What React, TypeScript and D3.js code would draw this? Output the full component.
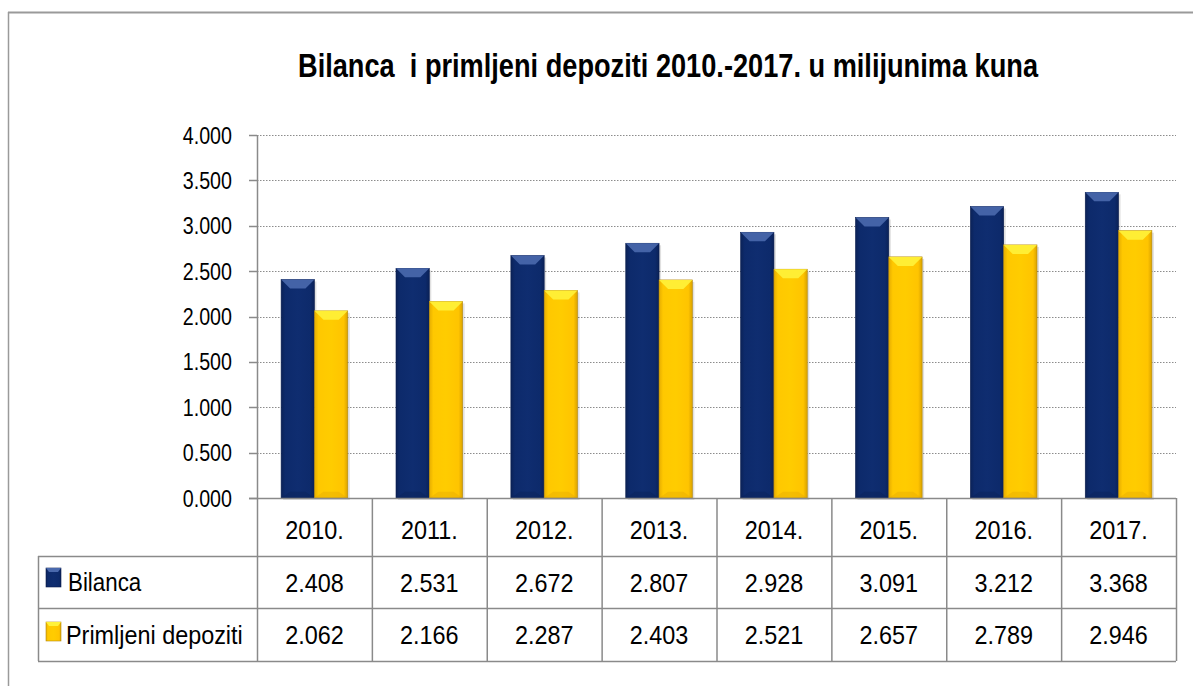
import React, { useLayoutEffect, useRef, useState } from "react";
import * as d3 from "d3";

const categories = ["2010.", "2011.", "2012.", "2013.", "2014.", "2015.", "2016.", "2017."];
const bilanca = [2408, 2531, 2672, 2807, 2928, 3091, 3212, 3368];
const depoziti = [2062, 2166, 2287, 2403, 2521, 2657, 2789, 2946];
const bilancaLabels = ["2.408", "2.531", "2.672", "2.807", "2.928", "3.091", "3.212", "3.368"];
const depozitiLabels = ["2.062", "2.166", "2.287", "2.403", "2.521", "2.657", "2.789", "2.946"];
const yTicks = [0, 500, 1000, 1500, 2000, 2500, 3000, 3500, 4000];
const yTickLabels = ["0.000", "0.500", "1.000", "1.500", "2.000", "2.500", "3.000", "3.500", "4.000"];
const seriesNames = ["Bilanca", "Primljeni depoziti"];
const title = "Bilanca  i primljeni depoziti 2010.-2017. u milijunima kuna";

const W = 1193;
const H = 686;
const plotL = 257;
const plotR = 1176;
const plotT = 135;
const plotB = 498;
const tableL = 38;
const row1 = 556;
const row2 = 608;
const row3 = 661;

const FONT = "'Liberation Sans', Arial, sans-serif";

function Bar({ x, y, w, h, kind }: { x: number; y: number; w: number; h: number; kind: "b" | "y" }) {
  const bev = Math.min(9, h / 2);
  const top = kind === "b" ? "#4a69ad" : "#fff23a";
  const bot = kind === "b" ? "#0a1f52" : "#e0a300";
  const stroke = kind === "b" ? "#0a1d4e" : "#b58a10";
  return (
    <g>
      <rect x={x + 2} y={y + 2} width={w} height={h} fill="#000" opacity={0.12} />
      <rect x={x} y={y} width={w} height={h} fill={`url(#grad-${kind})`} stroke={stroke} strokeWidth={0.6} />
      <polygon points={`${x},${y} ${x + w},${y} ${x + w - bev},${y + bev} ${x + bev},${y + bev}`} fill={top} opacity={0.9} />
      <polygon points={`${x},${y + h} ${x + w},${y + h} ${x + w - bev},${y + h - bev * 0.7} ${x + bev},${y + h - bev * 0.7}`} fill={bot} opacity={0.35} />
    </g>
  );
}

export default function App() {
  const x = d3.scaleBand<string>().domain(categories).range([plotL, plotR]).paddingInner(0).paddingOuter(0);
  const y = d3.scaleLinear().domain([0, 4000]).range([plotB, plotT]);
  const bw = x.bandwidth() * 0.29;
  const titleRef = useRef<SVGTextElement>(null);
  const [titleScale, setTitleScale] = useState(0.74);
  useLayoutEffect(() => {
    if (titleRef.current) {
      const len = titleRef.current.getComputedTextLength();
      if (len > 0) setTitleScale(740 / len);
    }
  }, []);

  return (
    <svg width={W} height={H} style={{ position: "absolute", left: 0, top: 0 }}>
      <defs>
        <linearGradient id="grad-b" x1="0" x2="1" y1="0" y2="0">
          <stop offset="0" stopColor="#0b2257" />
          <stop offset="0.12" stopColor="#0d2a6b" />
          <stop offset="0.5" stopColor="#0f2d70" />
          <stop offset="0.88" stopColor="#0d2a6b" />
          <stop offset="1" stopColor="#0a2157" />
        </linearGradient>
        <linearGradient id="grad-y" x1="0" x2="1" y1="0" y2="0">
          <stop offset="0" stopColor="#e6ad00" />
          <stop offset="0.12" stopColor="#ffc800" />
          <stop offset="0.5" stopColor="#ffcc00" />
          <stop offset="0.88" stopColor="#ffc400" />
          <stop offset="1" stopColor="#d9a200" />
        </linearGradient>
      </defs>
      <rect x={0} y={0} width={W} height={H} fill="#fff" />
      {/* outer border */}
      <line x1={8} y1={12.5} x2={W} y2={12.5} stroke="#9a9a9a" strokeWidth={2} />
      <line x1={8.5} y1={12} x2={8.5} y2={H} stroke="#9a9a9a" strokeWidth={1.5} />

      {/* title */}
      <text ref={titleRef} transform={`translate(668,77) scale(${titleScale},1)`} textAnchor="middle" fontFamily={FONT} fontWeight="bold" fontSize={34} fill="#000" style={{ whiteSpace: "pre" }}>
        {title}
      </text>

      {/* gridlines */}
      {yTicks.filter((t) => t > 0).map((t) => (
        <line key={t} x1={plotL} x2={plotR} y1={Math.round(y(t)) + 0.5} y2={Math.round(y(t)) + 0.5} stroke="#8c8c8c" strokeWidth={1} strokeDasharray="1.5,1.5" />
      ))}
      {/* axis */}
      <line x1={plotL + 0.5} x2={plotL + 0.5} y1={plotT} y2={row3} stroke="#8a8a8a" strokeWidth={1.5} />
      {yTicks.map((t, i) => (
        <g key={t}>
          <line x1={249} x2={plotL} y1={Math.round(y(t)) + 0.5} y2={Math.round(y(t)) + 0.5} stroke="#8a8a8a" strokeWidth={1.5} />
          <text transform={`translate(232,${y(t) + 8.5}) scale(0.82,1)`} textAnchor="end" fontFamily={FONT} fontSize={24} fill="#000">
            {yTickLabels[i]}
          </text>
        </g>
      ))}

      {/* bars */}
      {categories.map((c, i) => {
        const cx = (x(c) as number) + x.bandwidth() / 2;
        return (
          <g key={c}>
            <Bar x={cx - bw} y={y(bilanca[i])} w={bw} h={plotB - y(bilanca[i])} kind="b" />
            <Bar x={cx} y={y(depoziti[i])} w={bw} h={plotB - y(depoziti[i])} kind="y" />
          </g>
        );
      })}

      {/* table */}
      <line x1={249} x2={plotR} y1={plotB + 0.5} y2={plotB + 0.5} stroke="#8a8a8a" strokeWidth={1.5} />
      <line x1={tableL} x2={plotR} y1={row1 + 0.5} y2={row1 + 0.5} stroke="#8a8a8a" strokeWidth={1.5} />
      <line x1={tableL} x2={plotR} y1={row2 + 0.5} y2={row2 + 0.5} stroke="#8a8a8a" strokeWidth={1.5} />
      <line x1={tableL} x2={plotR} y1={row3 + 0.5} y2={row3 + 0.5} stroke="#8a8a8a" strokeWidth={1.5} />
      <line x1={tableL + 0.5} x2={tableL + 0.5} y1={row1} y2={row3} stroke="#8a8a8a" strokeWidth={1.5} />
      {categories.map((c) => (
        <line key={c} x1={(x(c) as number) + x.bandwidth() + 0.5} x2={(x(c) as number) + x.bandwidth() + 0.5} y1={plotB} y2={row3} stroke="#8a8a8a" strokeWidth={1.5} />
      ))}
      {categories.map((c, i) => {
        const cx = (x(c) as number) + x.bandwidth() / 2;
        return (
          <g key={c} fontFamily={FONT} fontSize={26} fill="#000">
            <text transform={`translate(${cx},539) scale(0.9,1)`} textAnchor="middle">{c}</text>
            <text transform={`translate(${cx},592) scale(0.9,1)`} textAnchor="middle">{bilancaLabels[i]}</text>
            <text transform={`translate(${cx},644) scale(0.9,1)`} textAnchor="middle">{depozitiLabels[i]}</text>
          </g>
        );
      })}
      {/* legend keys */}
      <rect x={46} y={568} width={15} height={19} fill="url(#grad-b)" stroke="#0a1d4e" strokeWidth={0.6} />
      <polygon points="46,568 61,568 58,572 49,572" fill="#4a69ad" />
      <rect x={46} y={622} width={15} height={19} fill="url(#grad-y)" stroke="#b58a10" strokeWidth={0.6} />
      <polygon points="46,622 61,622 58,626 49,626" fill="#fff23a" />
      <text transform="translate(68,591) scale(0.86,1)" fontFamily={FONT} fontSize={26} fill="#000">{seriesNames[0]}</text>
      <text transform="translate(66,644) scale(0.9,1)" fontFamily={FONT} fontSize={26} fill="#000">{seriesNames[1]}</text>
    </svg>
  );
}
